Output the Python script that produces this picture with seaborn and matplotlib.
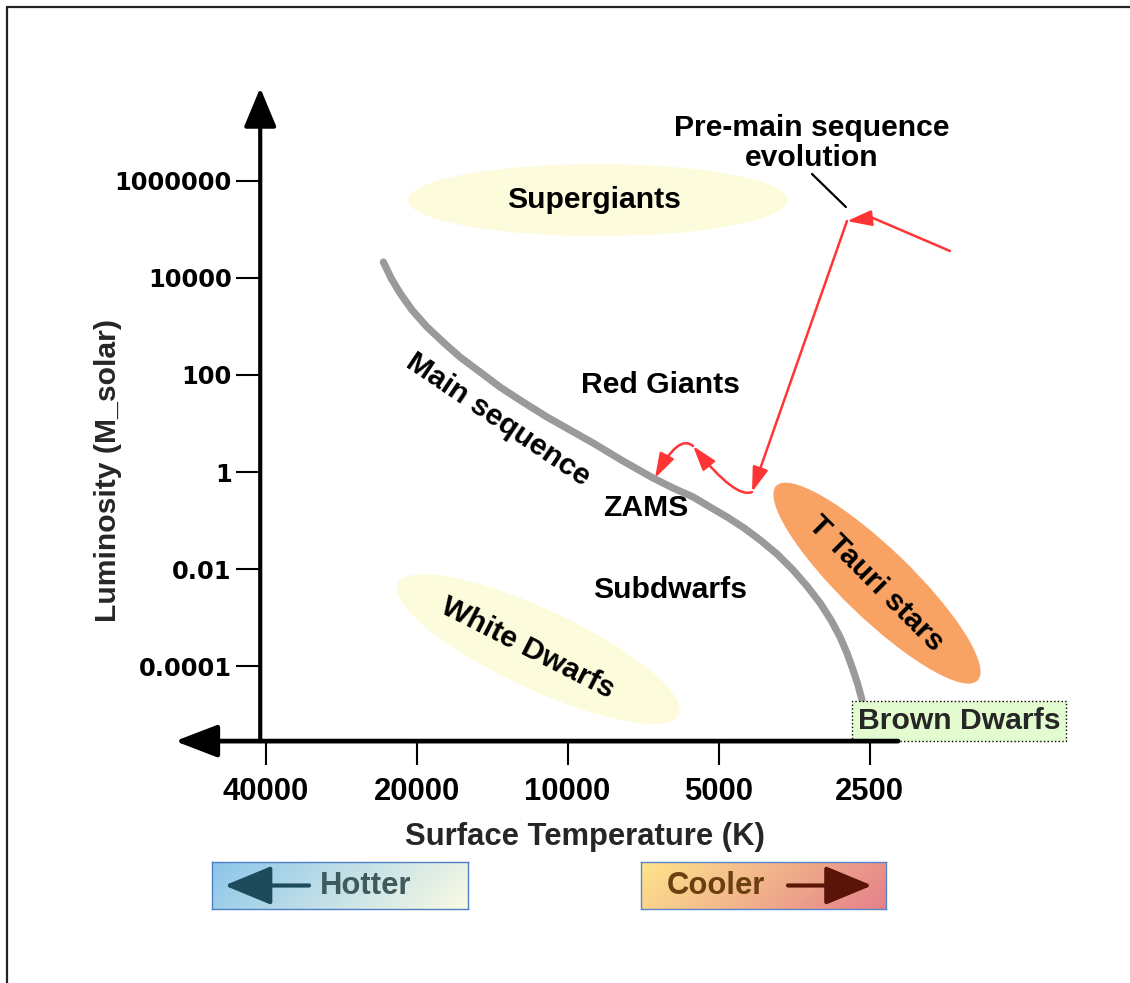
import numpy as np
import pandas as pd
import matplotlib
matplotlib.use("Agg")
import matplotlib.pyplot as plt
import seaborn as sns
from matplotlib.patches import Ellipse
from matplotlib.transforms import ScaledTranslation
from matplotlib.ticker import NullLocator
from matplotlib.lines import Line2D
from matplotlib import font_manager as fm

# ---------------- data ----------------
temp_ticks = [40000, 20000, 10000, 5000, 2500]
temp_labels = ["40000", "20000", "10000", "5000", "2500"]
lum_ticks = [1e6, 1e4, 1e2, 1, 1e-2, 1e-4]
lum_labels = ["1000000", "10000", "100", "1", "0.01", "0.0001"]

# main sequence band
ms_temp = [23296, 22497, 21586, 20429, 19066, 17718, 16393, 14949, 13643,
           12272, 10989, 9890, 8899, 7755, 6756, 6164, 5623, 5202, 4809,
           4449, 4133, 3824, 3553, 3333, 3138, 2985, 2863, 2774, 2697,
           2637, 2589]
ms_lum = [2.11e4, 9934, 4860, 2178, 971, 477, 234, 115, 56.5,
          27.7, 13.6, 7.35, 3.98, 1.69, 0.756, 0.471, 0.308, 0.191, 0.119,
          0.0707, 0.0401, 0.0206, 0.00966, 0.00452, 0.00202, 9.02e-4,
          4.04e-4, 1.89e-4, 8.45e-5, 4.14e-5, 2.04e-5]

# pre-main-sequence evolution track (vertices)
pms_temp = [1729, 2462, 2774, 4289, 5623, 6695]
pms_lum = [3.56e4, 1.70e5, 1.47e5, 0.389, 3.44, 0.756]

# shaded regions (centres)
region_names = ["Supergiants", "White Dwarfs", "T Tauri stars"]
region_temp = [8698, 11448, 2417]
region_lum = [3.98e5, 2.28e-4, 5.19e-3]

# text labels
label_text = ["Supergiants", "Red Giants", "Main sequence", "ZAMS",
              "Subdwarfs", "White Dwarfs", "T Tauri stars",
              "Pre-main sequence\nevolution"]
label_temp = [8857, 6543, 13764, 6978, 6250, 11998, 2427, 3256]
label_lum = [3.99e5, 62.4, 11.8, 0.182, 3.74e-3, 2.39e-4, 5.19e-3, 6.0e6]

brown_temp, brown_lum = 1658, 7.51e-6
pointer_temp = [3257, 2787]
pointer_lum = [1.37e6, 2.86e5]

# ---------------- layout / style ----------------
W, H = 1130, 983
X0_PX, PX_PER_OCT = 265.6, 151.0      # pixel of 40000 K, pixels per factor 2
Y0_PX, PX_PER_DEC = 472.1, 48.58      # pixel of L=1, pixels per decade

sns.set_theme(style="white")
plt.rcParams["font.family"] = ["Liberation Sans", "DejaVu Sans"]

names = {f.name for f in fm.fontManager.ttflist}
if "Liberation Sans Narrow" in names:
    XFAM, XSIZE = ["Liberation Sans Narrow", "DejaVu Sans"], 26.0
else:
    XFAM, XSIZE = ["Liberation Sans", "DejaVu Sans"], 22.3
MAIN_SIZE = 21.7

fig = plt.figure(figsize=(W / 100, H / 100), dpi=100)
ax = fig.add_axes([0, 0, 1, 1])
ax.set_xscale("log")
ax.set_yscale("log")
ax.set_facecolor("white")

T_left = 40000 * 2 ** (X0_PX / PX_PER_OCT)
T_right = 40000 / 2 ** ((W - X0_PX) / PX_PER_OCT)
L_bottom = 10 ** ((Y0_PX - H) / PX_PER_DEC)
L_top = 10 ** (Y0_PX / PX_PER_DEC)

T_YAXIS, L_XAXIS = 41000, 2.9e-6
L_YTIP, T_XTIP, T_XEND = 8.1e7, 60600, 2194

# regions
region_style = {
    "Supergiants": dict(w=3.80, h=0.72, angle=0, fc="#fcfcdc"),
    "White Dwarfs": dict(w=3.10, h=0.80, angle=-25, fc="#fcfcdc"),
    "T Tauri stars": dict(w=2.80, h=0.70, angle=-44, fc="#f8a263"),
}
for name, t, l in zip(region_names, region_temp, region_lum):
    st = region_style[name]
    tr = fig.dpi_scale_trans + ScaledTranslation(t, l, ax.transData)
    ax.add_patch(Ellipse((0, 0), st["w"], st["h"], angle=st["angle"],
                         transform=tr, fc=st["fc"], ec="none", zorder=1))

# main sequence
ms_df = pd.DataFrame({"temp": ms_temp, "lum": ms_lum})
sns.lineplot(data=ms_df, x="temp", y="lum", sort=False, estimator=None,
             color="#9a9a9a", lw=5.2, ax=ax, zorder=2)
ax.lines[-1].set_solid_joinstyle("round")

# pre-main-sequence track
red = "#ff3535"
ax.plot(pms_temp[:2], pms_lum[:2], color=red, lw=1.8, zorder=3,
        solid_capstyle="round")
head = "-|>,head_length=15,head_width=4.8"
conn = ["arc3,rad=0", "arc3,rad=0", "angle3,angleA=24,angleB=129",
        "angle3,angleA=139,angleB=62"]
for i in range(1, 5):
    ax.annotate("", xy=(pms_temp[i + 1], pms_lum[i + 1]),
                xytext=(pms_temp[i], pms_lum[i]),
                arrowprops=dict(arrowstyle=head, mutation_scale=1, lw=1.8,
                                color=red, shrinkA=0, shrinkB=0,
                                connectionstyle=conn[i - 1]), zorder=3)
ax.plot(pointer_temp, pointer_lum, color="black", lw=1.6, zorder=3)

# labels
label_rot = [0, 0, -34, 0, 0, -27, -45, 0]
for txt, t, l, r in zip(label_text, label_temp, label_lum, label_rot):
    ax.text(t, l, txt, ha="center", va="center", rotation=r,
            rotation_mode="anchor", fontsize=MAIN_SIZE, fontweight="bold",
            color="black", linespacing=1.1, zorder=4)

ax.text(brown_temp, brown_lum, "Brown Dwarfs", ha="center", va="center",
        fontsize=MAIN_SIZE, fontweight="bold", zorder=2,
        bbox=dict(boxstyle="square,pad=0.2", fc="#e2fbcf", ec="black",
                  ls=":", lw=1.0))

# axes lines with arrow heads
ax.annotate("", xy=(T_YAXIS, L_YTIP), xytext=(T_YAXIS, L_XAXIS),
            arrowprops=dict(arrowstyle="-|>,head_length=24,head_width=10",
                            mutation_scale=1, lw=3.0, color="black",
                            shrinkA=0, shrinkB=0), zorder=5)
ax.annotate("", xy=(T_XTIP, L_XAXIS), xytext=(T_XEND, L_XAXIS),
            arrowprops=dict(arrowstyle="-|>,head_length=26,head_width=10",
                            mutation_scale=1, lw=3.4, color="black",
                            shrinkA=0, shrinkB=0), zorder=5)

for s in ax.spines.values():
    s.set_visible(False)
ax.spines["left"].set_position(("data", T_YAXIS))
ax.spines["bottom"].set_position(("data", L_XAXIS))

ax.set_xticks(temp_ticks, labels=temp_labels)
ax.set_yticks(lum_ticks, labels=lum_labels)
ax.xaxis.set_minor_locator(NullLocator())
ax.yaxis.set_minor_locator(NullLocator())
ax.tick_params(axis="y", left=True, direction="out", length=17, width=1.5,
               pad=3.6, colors="black")
ax.tick_params(axis="x", bottom=True, direction="out", length=17, width=1.5,
               pad=9.0, colors="black")
for lb in ax.get_yticklabels():
    lb.set_fontfamily(["DejaVu Sans"])
    lb.set_fontweight("bold")
    lb.set_fontsize(17.4)
for lb in ax.get_xticklabels():
    lb.set_fontfamily(XFAM)
    lb.set_fontweight("bold")
    lb.set_fontsize(XSIZE)

ax.set_xlabel("Surface Temperature (K)", fontsize=XSIZE, fontweight="bold",
              family=XFAM)
ax.xaxis.set_label_coords(585 / W, 1 - 837 / H)
ax.xaxis.label.set_va("center")
ax.set_ylabel("Luminosity (M_solar)", fontsize=MAIN_SIZE, fontweight="bold")
ax.yaxis.set_label_coords(108 / W, 1 - 470 / H)
ax.yaxis.label.set_va("center")

ax.set_xlim(T_left, T_right)
ax.set_ylim(L_bottom, L_top)
ax.grid(False)


# ---------------- Hotter / Cooler boxes ----------------
def grad_box(rect_px, c1, c2, edge):
    x, y, w, h = rect_px
    a = fig.add_axes([x / W, 1 - (y + h) / H, w / W, h / H])
    nx, ny = 200, 40
    gx = np.linspace(0, 1, nx)[None, :] * w
    gy = np.linspace(0, 1, ny)[:, None] * h
    t = (gx + gy) / (w + h)
    c1 = np.array(matplotlib.colors.to_rgb(c1))
    c2 = np.array(matplotlib.colors.to_rgb(c2))
    img = c1[None, None, :] * (1 - t[..., None]) + c2[None, None, :] * t[..., None]
    a.imshow(img, extent=[0, 1, 0, 1], aspect="auto", origin="upper")
    a.set_xlim(0, 1)
    a.set_ylim(0, 1)
    a.set_xticks([])
    a.set_yticks([])
    for s in a.spines.values():
        s.set_visible(True)
        s.set_color(edge)
        s.set_linewidth(1.0)
    return a


axh = grad_box((212, 862, 256, 47), "#8cc6ea", "#fafae4", "#4f7fc4")
axh.annotate("", xy=(0.049, 0.5), xytext=(0.379, 0.5),
             xycoords="axes fraction",
             arrowprops=dict(arrowstyle="-|>,head_length=29,head_width=12",
                             mutation_scale=1, lw=3, color="#1e4b5c",
                             shrinkA=0, shrinkB=0))
axh.text(0.60, 0.5, "Hotter", transform=axh.transAxes, ha="center",
         va="center", fontsize=XSIZE, fontweight="bold", family=XFAM,
         color="#3e5a5c")

axc = grad_box((641, 862, 245, 47), "#fee48c", "#e5808a", "#5a85c8")
axc.annotate("", xy=(0.943, 0.5), xytext=(0.60, 0.5),
             xycoords="axes fraction",
             arrowprops=dict(arrowstyle="-|>,head_length=29,head_width=12",
                             mutation_scale=1, lw=3, color="#5a1508",
                             shrinkA=0, shrinkB=0))
axc.text(0.306, 0.5, "Cooler", transform=axc.transAxes, ha="center",
         va="center", fontsize=XSIZE, fontweight="bold", family=XFAM,
         color="#6a4010")

# frame lines (top and left)
fig.add_artist(Line2D([7 / W, 1], [1 - 7 / H, 1 - 7 / H],
                      transform=fig.transFigure, color="#222222", lw=1.6))
fig.add_artist(Line2D([7 / W, 7 / W], [0, 1 - 7 / H],
                      transform=fig.transFigure, color="#222222", lw=1.6))

fig.savefig("out.png", dpi=100)
